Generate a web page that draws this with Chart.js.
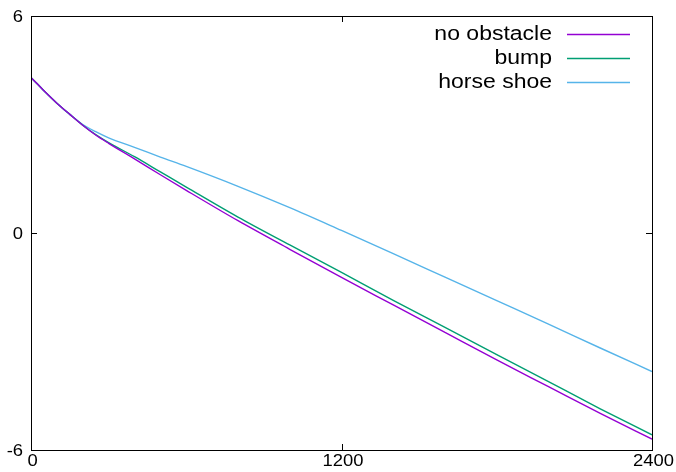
<!DOCTYPE html>
<html>
<head>
<meta charset="utf-8">
<script src="https://cdn.jsdelivr.net/npm/chart.js@4/dist/chart.umd.min.js"></script>
<style>
  body { margin: 0; background: #fff; }
  #wrap { width: 676px; height: 472px; position: relative; }
</style>
</head>
<body>
<div id="wrap"><canvas id="plot"></canvas></div>
<script>
// values
const xValues = [0, 25, 50, 100, 150, 200, 250, 300, 400, 500, 600, 800, 1000, 1200, 1400, 1600, 1800, 2000, 2200, 2400];
const noObstacle = [4.30, 4.12, 3.93, 3.59, 3.28, 2.98, 2.71, 2.48, 2.05, 1.61, 1.18, 0.34, -0.45, -1.23, -1.99, -2.75, -3.51, -4.25, -4.99, -5.70];
const bump = [4.30, 4.12, 3.93, 3.59, 3.28, 2.98, 2.72, 2.50, 2.11, 1.69, 1.27, 0.44, -0.33, -1.09, -1.86, -2.61, -3.36, -4.11, -4.86, -5.58];
const horseShoe = [4.30, 4.12, 3.93, 3.59, 3.28, 3.00, 2.80, 2.63, 2.37, 2.10, 1.84, 1.29, 0.70, 0.07, -0.57, -1.22, -1.87, -2.52, -3.18, -3.83];
const seriesNames = ['no obstacle', 'bump', 'horse shoe'];
const seriesColors = ['#9400d3', '#009e73', '#56b4e9'];
const xTicks = [0, 1200, 2400];
const yTicks = [-6, 0, 6];

const font = '"Liberation Sans", Arial, sans-serif';
const stretch = 1.15; // the original font is a bit wider than Liberation Sans

function toPoints(ys) {
    return xValues.map((x, i) => ({ x: x, y: ys[i] }));
}

function wideText(ctx, text, x, y, align) {
    const w = ctx.measureText(text).width * stretch;
    let left = x;
    if (align === 'right') left = x - w;
    if (align === 'center') left = x - w / 2;
    ctx.save();
    ctx.translate(left, y);
    ctx.scale(stretch, 1);
    ctx.textAlign = 'left';
    ctx.fillText(text, 0, 0);
    ctx.restore();
}

// gnuplot-like frame with inward ticks on all four sides, tick labels and legend
const framePlugin = {
    id: 'frame',
    afterDatasetsDraw(chart) {
        const ctx = chart.ctx;
        const a = chart.chartArea;
        const xs = chart.scales.x, ys = chart.scales.y;
        ctx.save();
        ctx.strokeStyle = '#000';
        ctx.lineWidth = 1;
        ctx.strokeRect(a.left + 0.5, a.top + 0.5, a.right - a.left, a.bottom - a.top);
        ctx.beginPath();
        yTicks.forEach(v => {
            const py = Math.round(ys.getPixelForValue(v)) + 0.5;
            ctx.moveTo(a.left, py); ctx.lineTo(a.left + 6, py);
            ctx.moveTo(a.right, py); ctx.lineTo(a.right - 6, py);
        });
        xTicks.forEach(v => {
            const px = Math.round(xs.getPixelForValue(v)) + 0.5;
            ctx.moveTo(px, a.bottom); ctx.lineTo(px, a.bottom - 6);
            ctx.moveTo(px, a.top); ctx.lineTo(px, a.top + 6);
        });
        ctx.stroke();

        // tick labels
        ctx.fillStyle = '#000';
        ctx.font = '16px ' + font;
        ctx.textBaseline = 'middle';
        yTicks.forEach(v => {
            wideText(ctx, String(v), a.left - 8, ys.getPixelForValue(v) + 1.5, 'right');
        });
        xTicks.forEach(v => {
            wideText(ctx, String(v), xs.getPixelForValue(v) + 1.5, a.bottom + 12, 'center');
        });

        // legend
        ctx.font = '20px ' + font;
        chart.data.datasets.forEach((ds, i) => {
            const y = 34 + i * 24;
            ctx.fillStyle = '#000';
            wideText(ctx, ds.label, 552, y, 'right');
            ctx.strokeStyle = ds.borderColor;
            ctx.lineWidth = 1.4;
            ctx.beginPath();
            ctx.moveTo(567, y + 0.5);
            ctx.lineTo(630, y + 0.5);
            ctx.stroke();
        });
        ctx.restore();
    }
};

const seriesData = [noObstacle, bump, horseShoe];

new Chart(document.getElementById('plot'), {
    type: 'line',
    data: {
        datasets: seriesData.map((ys, i) => ({
            label: seriesNames[i],
            data: toPoints(ys),
            borderColor: seriesColors[i],
            backgroundColor: seriesColors[i],
            borderWidth: 1.4,
            pointRadius: 0,
            cubicInterpolationMode: 'monotone',
            fill: false
        }))
    },
    options: {
        responsive: true,
        maintainAspectRatio: false,
        animation: false,
        events: [],
        layout: { padding: { top: 16, right: 24, left: 0, bottom: 0 } },
        plugins: {
            legend: { display: false },
            tooltip: { enabled: false }
        },
        scales: {
            x: {
                type: 'linear',
                min: 0,
                max: 2400,
                grid: { display: false },
                border: { display: false },
                ticks: { display: false },
                afterFit(scale) { scale.height = 22; }
            },
            y: {
                type: 'linear',
                min: -6,
                max: 6,
                grid: { display: false },
                border: { display: false },
                ticks: { display: false },
                afterFit(scale) { scale.width = 31; }
            }
        }
    },
    plugins: [framePlugin]
});
</script>
</body>
</html>
